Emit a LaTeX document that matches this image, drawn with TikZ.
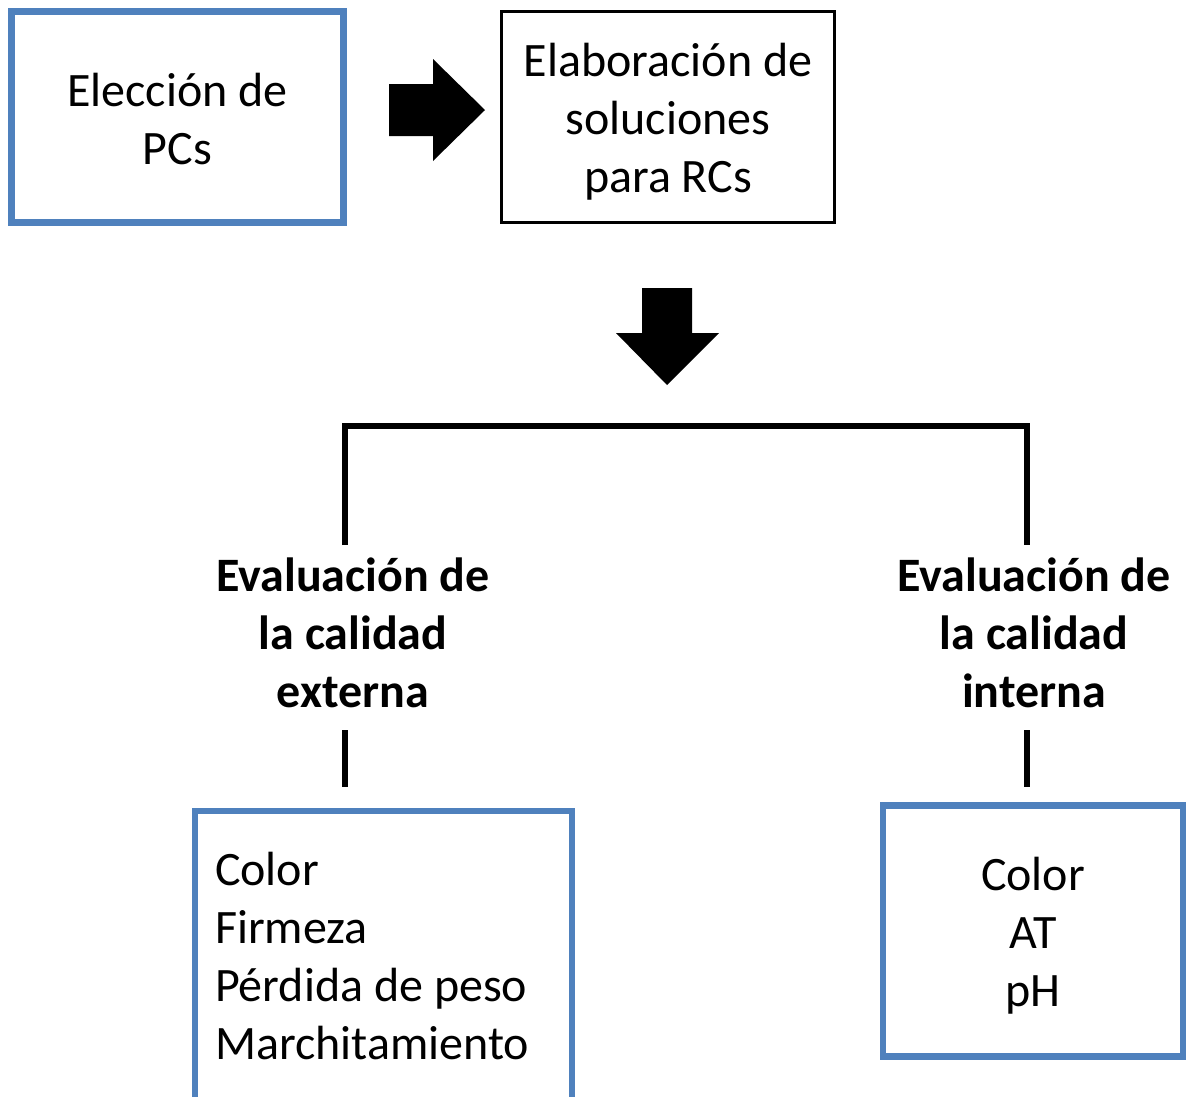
\documentclass[tikz,border=0pt]{standalone}
\usepackage{fontspec}
\setmainfont{Carlito}
\definecolor{boxblue}{HTML}{4F81BD}
\tikzset{
  bluebox/.style={draw=boxblue, line width=6.5pt, rectangle, inner sep=0pt},
  blackbox/.style={draw=black, line width=3pt, rectangle, inner sep=0pt},
  bigtext/.style={font=\fontsize{48}{58}\selectfont},
  boldtext/.style={font=\fontsize{48}{58}\selectfont\bfseries},
  bracket/.style={line width=6pt}
}
\begin{document}
\begin{tikzpicture}[x=1pt,y=-1pt]
\clip (0,0) rectangle (1187,1096);

% top row
\node[bluebox, minimum width=332pt, minimum height=211pt,
  label={[bigtext, align=center, yshift=-2pt]center:{Elección de\\PCs}}] (eleccion) at (177.5,117) {};
\node[blackbox, minimum width=333pt, minimum height=211pt,
  label={[bigtext, align=center, yshift=-5pt]center:{Elaboración de\\soluciones\\para RCs}}] (elaboracion) at (668,117) {};

% block arrows
\fill (389,84) -- (433,84) -- (433,59) -- (485,110) -- (433,161) -- (433,136) -- (389,136) -- cycle;
\fill (642,288) -- (692,288) -- (692,333) -- (719,333) -- (667,385) -- (616,333) -- (642,333) -- cycle;

% evaluation
\node[boldtext, align=center] (externa) at (353,633) {Evaluación de\\la calidad\\externa};
\node[boldtext, align=center] (interna) at (1034,633) {Evaluación de\\la calidad\\interna};

\coordinate (bar) at (686,426);
\coordinate (extUp) at (345,545);
\coordinate (intUp) at (1027,545);
\draw[bracket] (extUp) -- (extUp |- bar) -- (intUp |- bar) -- (intUp);

% parameter boxes
\node[bluebox, bigtext, align=flush left, text width=337pt, minimum width=377pt, minimum height=290pt] (listaext) at (383.5,956) {Color\\Firmeza\\Pérdida de peso\\Marchitamiento};
\node[bluebox, minimum width=300pt, minimum height=251pt,
  label={[bigtext, align=center, yshift=-5pt]center:{Color\\AT\\pH}}] (listaint) at (1033,931) {};

\coordinate (extDown) at (345,730);
\coordinate (intDown) at (1027,730);
\draw[bracket] (extDown) -- ([yshift=21pt]extDown |- listaext.north);
\draw[bracket] (intDown) -- ([yshift=15pt]intDown |- listaint.north);
\end{tikzpicture}
\end{document}
